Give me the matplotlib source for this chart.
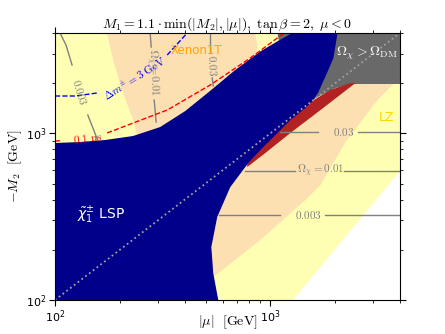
import numpy as np
import matplotlib
matplotlib.use("Agg")
import matplotlib.pyplot as plt

# region boundaries, in GeV: (|mu|, -M2)
lsp_mu = [100, 100, 130.7, 171, 230.5, 307.8, 402.6, 526, 687, 898, 1113, 1265,
          2051, 1963, 1841, 1672, 1585, 1455, 1239, 1113, 898, 790, 651.6, 566.7, 532, 543, 573]
lsp_m2 = [100, 875, 887, 912, 964, 1091, 1361, 1800, 2399, 3100, 3650, 4000,
          4000, 2831, 2333, 1770, 1585, 1419, 1202, 1047, 794, 664, 476, 315, 208, 145, 100]

overclosed_mu = [1078, 4000, 4000, 2405, 2005, 1618, 1306, 1200, 1100]
overclosed_m2 = [4000, 4000, 1977, 1977, 1871, 1629, 1288, 1300, 3500]

band_mu = [2484, 1710, 1239, 948, 781, 781, 1380, 1901, 2355]
band_m2 = [2003, 1380, 1005, 762, 628, 711, 1419, 1820, 2003]

xenon_a_mu = [174.5, 851, 870, 860, 700, 300, 240.5, 230.5, 207, 186]
xenon_a_m2 = [4000, 4000, 3300, 3000, 1500, 900, 977, 1202, 1746, 2754]

xenon_b_mu = [2405, 3733, 3147, 2235, 1710, 1455, 898, 543, 400, 400, 1000, 2000]
xenon_b_m2 = [1977, 1977, 1585, 887, 490, 398, 229, 137, 137, 1000, 1300, 1900]

lz_free_mu = [1279, 4000, 4000]
lz_free_m2 = [100, 100, 595]

# Omega contours, split around their inline labels
om_wino_m2 = [1019, 594, 324]
om_wino_left = [(1113, 1672), (765.6, 1306), (579, 1113)]
om_wino_right = [(2541, 4000), (2188, 4000), (1803, 4000)]
om_wino_lab_mu = [2188, 1710, 1503]
om_wino_text = ["$0.03$", r"$\Omega_\chi = 0.01$", "$0.003$"]

om_h003_top = ([105.5, 112.5, 120], [4000, 3388, 2570])
om_h003_bot = ([142, 150, 157], [1288, 1076, 925])
om_h01_top = ([276.6, 279.7], [4000, 3296])
om_h01_bot = ([288.7, 295], [1585, 1169])
om_h03_top = ([526, 526], [4000, 3074])
om_h03_bot = ([537, 543], [2148, 1923])

dm_left = ([100, 124, 157], [1675, 1675, 1746])
dm_right = ([332, 411], [2951, 4000])
ns_left = ([100, 107.8], [899, 905])
ns_right = ([174.5, 230.5, 332, 526, 807, 1078, 1161],
            [1005, 1153, 1380, 1950, 2831, 3733, 4000])

yellow = "#ffffb3"
peach = "#fde0b2"

fig = plt.figure(figsize=(4.45, 3.34), dpi=100)
ax = fig.add_axes([55 / 445, 34 / 334, 345 / 445, 267 / 334])
ax.set_xscale("log")
ax.set_yscale("log")
ax.set_xlim(100, 4000)
ax.set_ylim(100, 4000)
ax.set_facecolor(yellow)

ax.fill(lz_free_mu, lz_free_m2, color="white", lw=0)
ax.fill(xenon_a_mu, xenon_a_m2, color=peach, lw=0)
ax.fill(xenon_b_mu, xenon_b_m2, color=peach, lw=0)
ax.fill(overclosed_mu, overclosed_m2, color="dimgray", lw=0)
ax.fill(band_mu, band_m2, color="firebrick", lw=0)
ax.fill(lsp_mu, lsp_m2, color="darkblue", lw=0)

ax.plot([100, 4000], [100, 4000], ls=":", color="#a0a0a0", lw=1.3)

cc = "gray"
for m2, (a, b), (c, d), xl, t in zip(om_wino_m2, om_wino_left, om_wino_right,
                                      om_wino_lab_mu, om_wino_text):
    ax.plot([a, b], [m2, m2], color=cc, lw=1)
    ax.plot([c, d], [m2, m2], color=cc, lw=1)
    ax.text(xl, m2, t, color=cc, fontsize=8, ha="center", va="center",
            math_fontfamily="cm")

for seg in [om_h003_top, om_h003_bot, om_h01_top, om_h01_bot, om_h03_top, om_h03_bot]:
    ax.plot(seg[0], seg[1], color=cc, lw=1)
ax.text(130.7, 1770, "$0.003$", color=cc, fontsize=8, rotation=-73,
        ha="center", va="center", math_fontfamily="cm")
ax.text(282.6, 2333, r"$\Omega_\chi = 0.01$", color=cc, fontsize=8, rotation=-88,
        ha="center", va="center", math_fontfamily="cm")
ax.text(537, 2570, "$0.03$", color=cc, fontsize=8, rotation=-88,
        ha="center", va="center", math_fontfamily="cm")

ax.plot(dm_left[0], dm_left[1], color="blue", ls="--", lw=1)
ax.plot(dm_right[0], dm_right[1], color="blue", ls="--", lw=1)
ax.text(235.6, 2148, r"$\Delta m^{\pm} = 3\ \mathrm{GeV}$", color="blue", fontsize=8,
        rotation=32, ha="center", va="center", math_fontfamily="cm")

ax.plot(ns_left[0], ns_left[1], color="red", ls="--", lw=1)
ax.plot(ns_right[0], ns_right[1], color="red", ls="--", lw=1)
ax.text(142.4, 938, r"$0.1\ \mathrm{ns}$", color="red", fontsize=8, rotation=8,
        ha="center", va="center", math_fontfamily="cm")

ax.text(455, 3162, "Xenon1T", color="orange", fontsize=8.5, ha="center", va="center")
ax.text(3465, 1253, "LZ", color="gold", fontsize=9, ha="center", va="center")
ax.text(163.7, 324, r"$\tilde{\chi}_1^{\pm}$ LSP", color="white", fontsize=10,
        ha="center", va="center")
ax.text(2825, 3033, r"$\Omega_\chi > \Omega_{\mathrm{DM}}$", color="white", fontsize=10,
        ha="center", va="center", math_fontfamily="cm")

ax.set_title(r"$M_1 = 1.1 \cdot \min(|M_2|,|\mu|),\ \tan\beta = 2,\ \mu < 0$",
             fontsize=10, math_fontfamily="cm", pad=3)
ax.set_xlabel(r"$|\mu|\ \ [\mathrm{GeV}]$", fontsize=10, math_fontfamily="cm")
ax.set_ylabel(r"$-M_2\ \ [\mathrm{GeV}]$", fontsize=10, math_fontfamily="cm")
ax.xaxis.set_label_coords(0.5, -0.05)
ax.yaxis.set_label_coords(-0.09, 0.5)
ax.tick_params(which="both", direction="out", top=True, right=True, labelsize=8, pad=2)
ax.tick_params(which="major", length=4)
ax.tick_params(which="minor", length=2)

fig.savefig("out.png", dpi=100)
